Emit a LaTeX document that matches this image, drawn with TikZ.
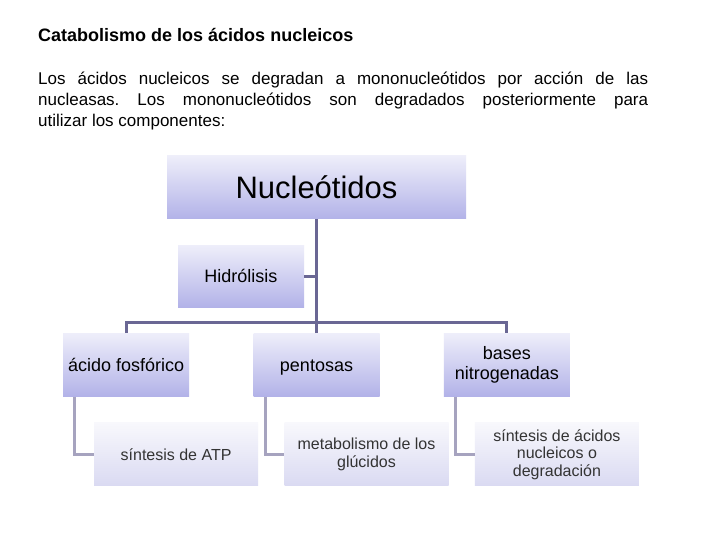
\documentclass[tikz,border=0pt]{standalone}
\usepackage{fontspec}
\setmainfont{Liberation Sans}
\usetikzlibrary{positioning}
\definecolor{boxtop}{HTML}{EEEEFA}
\definecolor{boxbot}{HTML}{B2B2E8}
\definecolor{subtop}{HTML}{F8F8FC}
\definecolor{subbot}{HTML}{DADAF2}
\definecolor{trunk}{HTML}{6A6794}
\definecolor{twig}{HTML}{A6A3BF}
\frenchspacing
\tikzset{
  mainbox/.style={top color=boxtop,bottom color=boxbot,align=center,inner sep=2pt,minimum width=126pt,minimum height=63pt,font=\fontsize{18}{20}\selectfont},
  topbox/.style={mainbox,minimum width=299pt,font=\fontsize{31}{36}\selectfont},
  subbox/.style={top color=subtop,bottom color=subbot,align=center,inner sep=2pt,minimum width=164pt,minimum height=63pt,text=black!80,font=\fontsize{16}{17.5}\selectfont},
  trunkline/.style={draw=trunk,line width=3pt},
  twigline/.style={draw=twig,line width=3pt},
}

\begin{document}
\begin{tikzpicture}[x=1pt,y=-1pt]
  \useasboundingbox[fill=white] (0,0) rectangle (720,540);
  \node[anchor=base west,inner sep=0,font=\fontsize{18}{22}\selectfont\bfseries] (title) at (38,42) {Catabolismo de los ácidos nucleicos};
  \node[anchor=base west,inner sep=0,text width=610pt,align=justify,font=\fontsize{17}{21}\selectfont] (intro) at (38,85) {Los ácidos nucleicos se degradan a mononucleótidos por acción de las\linebreak nucleasas. Los mononucleótidos son degradados posteriormente para\linebreak utilizar los componentes:};
  % tree
  \node[topbox] (nuc) at (316.5,187.5) {Nucleótidos};
  \node[mainbox,below=26pt of nuc.south west,anchor=north west,xshift=11pt,minimum height=62pt] (hyd) {Hidrólisis};
  \node[mainbox,below=114pt of nuc,text depth=0pt] (pent) {pentosas\vphantom{fó}};
  \node[mainbox,left=64pt of pent] (acid) {ácido fosfórico};
  \node[mainbox,right=64pt of pent] (bases) {bases\\nitrogenadas};
  \node[subbox,below=26pt of acid.south west,anchor=north west,xshift=31pt] (atp) {síntesis de ATP};
  \node[subbox,below=26pt of pent.south west,anchor=north west,xshift=31pt] (gluc) {metabolismo de los\\glúcidos};
  \node[subbox,below=26pt of bases.south west,anchor=north west,xshift=31pt] (deg) {síntesis de ácidos\\nucleicos o\\degradación};
  \coordinate (bar) at (0,322);
  \draw[trunkline] (nuc.south) -- (nuc.south |- bar);
  \draw[trunkline] (hyd.east) -- (hyd.east -| nuc.south);
  \draw[trunkline] (acid.north) |- (bar -| pent.north) -| (bases.north);
  \draw[trunkline] (pent.north) -- (pent.north |- bar);
  \foreach \p/\c in {acid/atp,pent/gluc,bases/deg}
    \draw[twigline] ([xshift=12pt]\p.south west) |- (\c.west);
\end{tikzpicture}
\end{document}
